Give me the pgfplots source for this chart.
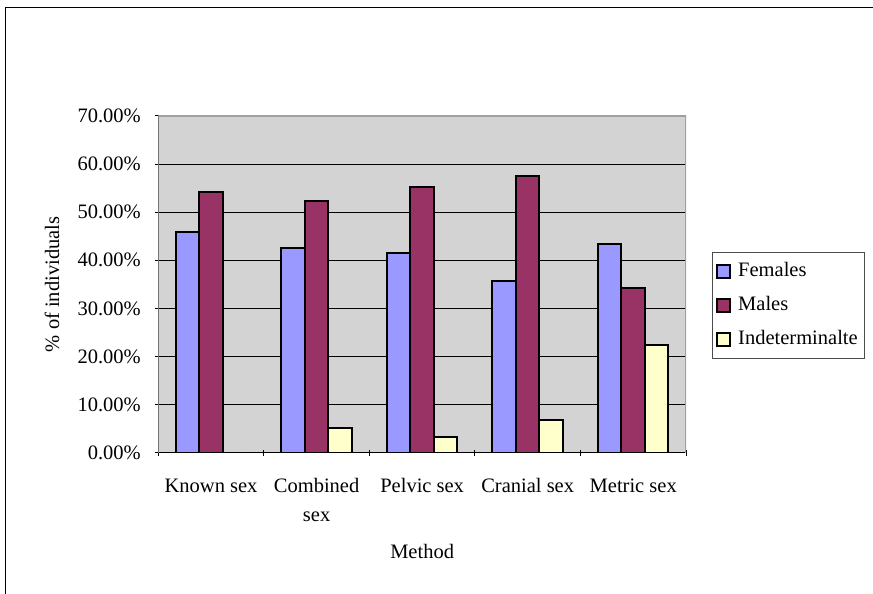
\documentclass[border=0pt]{standalone}
\usepackage{fontspec}
\setmainfont{Liberation Serif}
\usepackage{pgfplots}
\pgfplotsset{compat=1.18}
\definecolor{fem}{HTML}{9999FF}
\definecolor{mal}{HTML}{993366}
\definecolor{ind}{HTML}{FFFFCC}
\definecolor{bg}{HTML}{D3D3D3}
\definecolor{bord}{HTML}{A0A0A0}
\begin{document}
\begin{tikzpicture}[x=1bp,y=1bp]
\useasboundingbox (0,0) rectangle (873,594);
\draw[black, line width=1bp] (5,0) -- (5,586.5) -- (873,586.5);
\begin{axis}[
  at={(158.3bp,141.3bp)}, anchor=south west,
  scale only axis, width=527.7bp, height=336.7bp,
  font=\fontsize{20.5bp}{24bp}\selectfont,
  ybar=0pt, bar width=23.5bp,
  xmin=-0.5, xmax=4.5, ymin=0, ymax=70,
  xtick={0,...,4},
  xticklabels={Known sex, Combined\\sex, Pelvic sex, Cranial sex, Metric sex},
  xticklabel style={align=center, yshift=-19.5bp, font=\fontsize{20.5bp}{29bp}\selectfont},
  major x tick style={draw=none},
  minor xtick={-0.5,0.5,...,4.5},
  minor x tick style={black, line width=1bp},
  ytick={0,10,...,70},
  yticklabel={\pgfmathprintnumber[fixed,fixed zerofill,precision=2]{\tick}\%},
  yticklabel style={xshift=-11bp},
  /pgf/number format/assume math mode=true,
  major y tick style={black, line width=1bp},
  tick align=outside, major tick length=6bp, minor tick length=6bp,
  ymajorgrids, grid style={black, line width=0.8bp},
  axis background/.style={fill=bg},
  axis x line=bottom, axis y line=left,
  x axis line style={black, line width=1bp, -},
  y axis line style={black!55, line width=1.2bp, -},
  xlabel={Method},
  ylabel={\% of individuals},
  xlabel style={at={(axis description cs:0.5,-0.292)}, anchor=center},
  ylabel style={at={(axis description cs:-0.2014,0.5)}, anchor=center},
  legend image code/.code={\draw[#1, line width=2bp] (0bp,-6bp) rectangle (13bp,7bp);},
  legend cell align=left,
  legend style={at={(rel axis cs:1.0487,0.595)}, anchor=north west,
    draw=black!70, line width=1bp, fill=white,
    font=\fontsize{20.5bp}{24bp}\selectfont,
    inner xsep=4bp, inner ysep=7bp, row sep=10bp,
    /tikz/every odd column/.append style={column sep=4bp},
    nodes={inner sep=3bp, text height=14bp, text depth=4bp}},
]
\addplot[fill=fem, draw=black, line width=2bp] coordinates {(0,45.8) (1,42.5) (2,41.5) (3,35.6) (4,43.3)};
\addplot[fill=mal, draw=black, line width=2bp] coordinates {(0,54.2) (1,52.3) (2,55.3) (3,57.6) (4,34.3)};
\addplot[fill=ind, draw=black, line width=2bp] coordinates {(0,0) (1,5.2) (2,3.2) (3,6.8) (4,22.4)};
\legend{Females, Males, Indeterminalte}
\draw[bord, line width=2bp] (rel axis cs:0,1) -- (rel axis cs:1,1) -- (rel axis cs:1,0);
\end{axis}
\end{tikzpicture}
\end{document}
